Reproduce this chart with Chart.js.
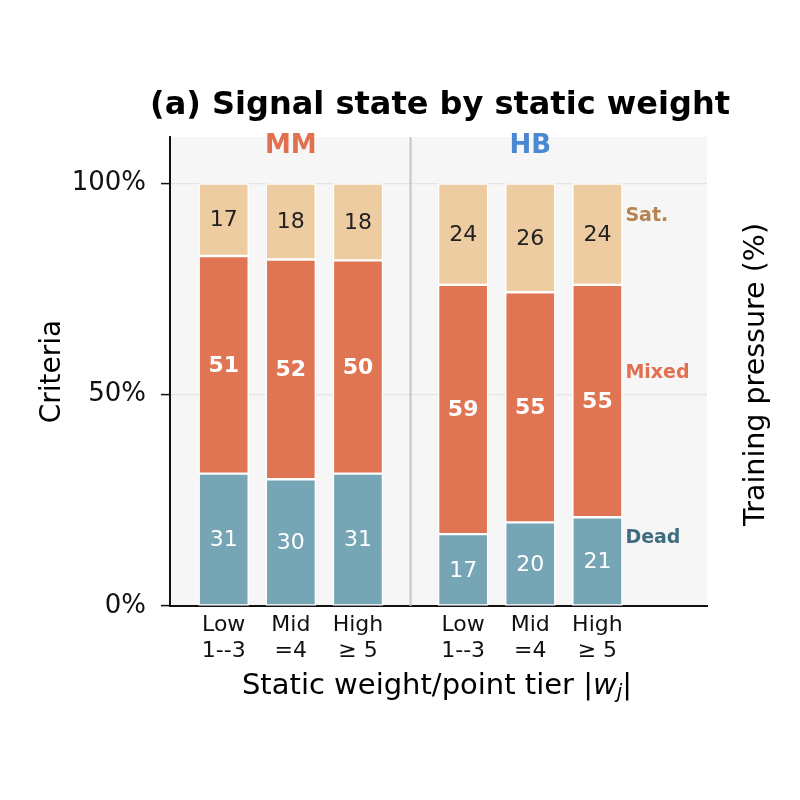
<!DOCTYPE html>
<html>
<head>
<meta charset="utf-8">
<script src="https://cdn.jsdelivr.net/npm/chart.js@4.4.1/dist/chart.umd.min.js"></script>
<style>
  html, body { margin: 0; background: #fff; }
  #wrap { width: 800px; height: 800px; }
</style>
</head>
<body>
<div id="wrap"><canvas id="chart"></canvas></div>
<script>
// data
const groups = ['MM', 'HB'];
const tiers = [['Low', '1--3'], ['Mid', '=4'], ['High', '≥ 5']];
const dead  = [31, 30, 31, 17, 20, 21];
const mixed = [51, 52, 50, 59, 55, 55];
const sat   = [17, 18, 18, 24, 26, 24];
const yTicks = [0, 50, 100];

const FONT = '"DejaVu Sans", sans-serif';
const colors = { dead: '#76a5b5', mixed: '#e07553', sat: '#eecca1' };
const groupColors = ['#e07050', '#4a88d2'];

// slot positions on the linear x axis: 3 tiers per group, wider gap between groups
const groupStep = 3.567;
const slotX = dead.map((_, i) => Math.floor(i / 3) * groupStep + (i % 3));
const totals = dead.map((d, i) => d + mixed[i] + sat[i]);
const asPct = arr => arr.map((v, i) => ({ x: slotX[i], y: v / totals[i] * 100 }));

const barStyle = { barThickness: 50, borderColor: '#ffffff', borderWidth: 1.5, borderSkipped: false };

const decor = {
  id: 'decor',
  beforeDraw(chart) {
    const { ctx, chartArea: a } = chart;
    ctx.save();
    ctx.fillStyle = '#f6f6f6';
    ctx.fillRect(a.left, a.top, a.right - a.left, a.bottom - a.top);
    ctx.restore();
  },
  beforeDatasetsDraw(chart) {
    const { ctx, chartArea: a, scales } = chart;
    const xd = scales.x.getPixelForValue((slotX[2] + slotX[3]) / 2);
    ctx.save();
    ctx.strokeStyle = '#c4c4c4';
    ctx.lineWidth = 2;
    ctx.beginPath();
    ctx.moveTo(xd, a.top);
    ctx.lineTo(xd, a.bottom);
    ctx.stroke();
    ctx.restore();
  },
  afterDatasetsDraw(chart) {
    const { ctx, chartArea: a, scales } = chart;
    const x = scales.x, y = scales.y;
    ctx.save();
    ctx.textAlign = 'center';
    ctx.textBaseline = 'middle';
    const labelSets = [
      { vals: dead, color: '#ffffff', weight: '' },
      { vals: mixed, color: '#ffffff', weight: 'bold ' },
      { vals: sat, color: '#222222', weight: '' }
    ];
    labelSets.forEach((s, di) => {
      const meta = chart.getDatasetMeta(di);
      ctx.fillStyle = s.color;
      ctx.font = s.weight + '22px ' + FONT;
      meta.data.forEach((bar, i) => {
        ctx.fillText(String(s.vals[i]), bar.x, (bar.y + bar.base) / 2 + 1);
      });
    });

    // group headers
    ctx.font = 'bold 26px ' + FONT;
    groups.forEach((g, gi) => {
      ctx.fillStyle = groupColors[gi];
      ctx.fillText(g, x.getPixelForValue(slotX[gi * 3 + 1]), y.getPixelForValue(109.0) + 1);
    });

    // state names beside the last bar
    const sx = x.getPixelForValue(slotX[slotX.length - 1]) + 28;
    ctx.textAlign = 'left';
    ctx.font = 'bold 19px ' + FONT;
    [['Sat.', '#b5844f', 92.4], ['Mixed', '#e07050', 55.2], ['Dead', '#3f6c7e', 16.1]].forEach(([t, c, v]) => {
      ctx.fillStyle = c;
      ctx.fillText(t, sx, y.getPixelForValue(v));
    });

    // title
    ctx.textAlign = 'center';
    ctx.fillStyle = '#000';
    ctx.font = 'bold 32px ' + FONT;
    ctx.fillText('(a) Signal state by static weight', 440, 106);

    // right-hand label
    ctx.save();
    ctx.translate(757, (a.top + a.bottom) / 2 + 3);
    ctx.rotate(-Math.PI / 2);
    ctx.font = '28.5px ' + FONT;
    ctx.fillStyle = '#000';
    ctx.fillText('Training pressure (%)', 0, 0);
    ctx.restore();

    // x axis title with italic w_j
    const parts = [
      { t: 'Static weight/point tier |', f: '29px ' + FONT, dy: 0 },
      { t: 'w', f: 'italic 29px ' + FONT, dy: 0 },
      { t: 'j', f: 'italic 20px ' + FONT, dy: 7 },
      { t: '|', f: '29px ' + FONT, dy: 0 }
    ];
    let total = 0;
    parts.forEach(p => { ctx.font = p.f; p.w = ctx.measureText(p.t).width; total += p.w; });
    let px = 437 - total / 2;
    ctx.textAlign = 'left';
    parts.forEach(p => {
      ctx.font = p.f;
      ctx.fillText(p.t, px, 686 + p.dy);
      px += p.w;
    });
    ctx.restore();
  }
};

new Chart(document.getElementById('chart'), {
  type: 'bar',
  data: {
    datasets: [
      { label: 'Dead', data: asPct(dead), backgroundColor: colors.dead, ...barStyle },
      { label: 'Mixed', data: asPct(mixed), backgroundColor: colors.mixed, ...barStyle },
      { label: 'Sat.', data: asPct(sat), backgroundColor: colors.sat, ...barStyle }
    ]
  },
  options: {
    responsive: true,
    maintainAspectRatio: false,
    animation: false,
    layout: { padding: { top: 137, right: 93, bottom: 0, left: 0 } },
    plugins: { legend: { display: false }, tooltip: { enabled: false } },
    scales: {
      x: {
        type: 'linear',
        stacked: true,
        offset: false,
        min: -0.8,
        max: 7.2,
        afterFit: s => { s.height = 194; },
        afterBuildTicks: s => { s.ticks = slotX.map(v => ({ value: v })); },
        grid: { display: false, drawTicks: false, offset: false },
        border: { color: '#111', width: 2 },
        ticks: {
          autoSkip: false,
          maxRotation: 0,
          padding: 6,
          color: '#111',
          font: { family: FONT, size: 22, lineHeight: 1.2 },
          callback: (v, i) => tiers[i % 3]
        }
      },
      y: {
        stacked: true,
        min: 0,
        max: 111,
        afterFit: s => { s.width = 170; },
        afterBuildTicks: s => { s.ticks = yTicks.map(v => ({ value: v })); },
        grid: { color: '#e4e4e4', lineWidth: 1.2, tickColor: '#111', tickLength: 9, tickWidth: 1.5 },
        border: { color: '#111', width: 2 },
        ticks: {
          padding: 15,
          color: '#111',
          font: { family: FONT, size: 26 },
          callback: v => v + '%'
        },
        title: {
          display: true,
          text: 'Criteria',
          color: '#000',
          padding: { top: 36, bottom: 0 },
          font: { family: FONT, size: 28 }
        }
      }
    }
  },
  plugins: [decor]
});
</script>
</body>
</html>
